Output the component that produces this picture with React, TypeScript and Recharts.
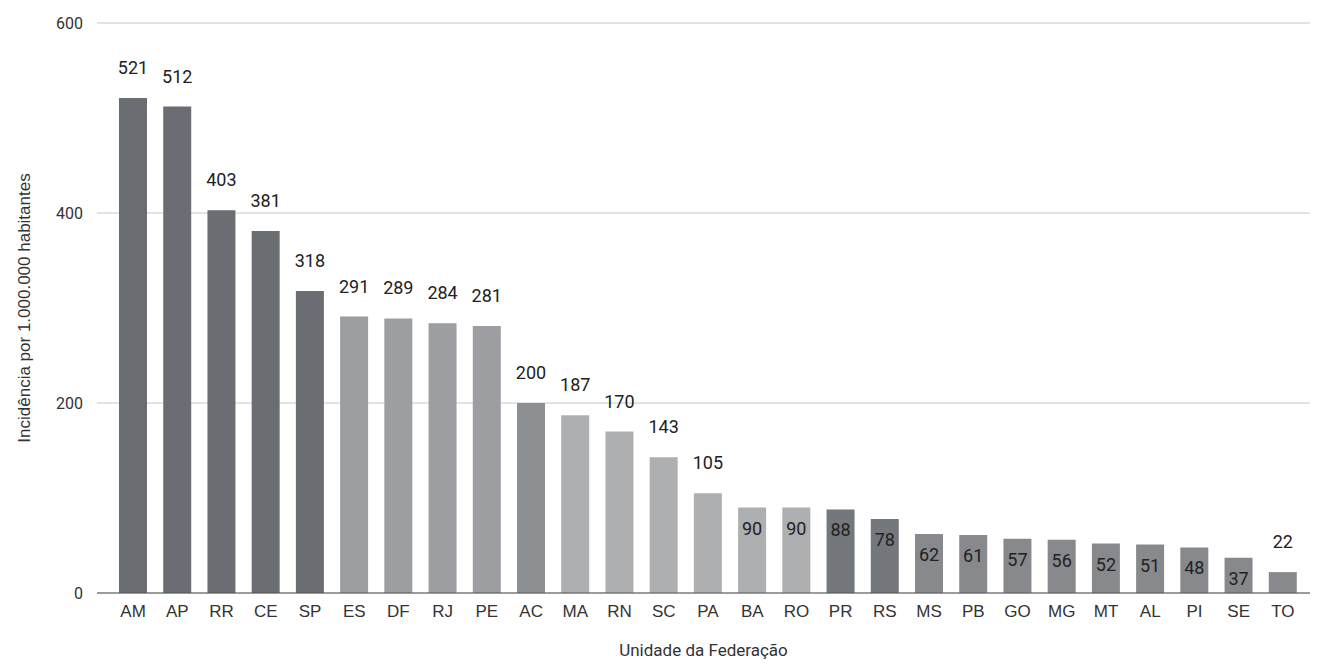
import { Bar, BarChart, CartesianGrid, Cell, LabelList, XAxis, YAxis } from "recharts";

const states = [
  "AM", "AP", "RR", "CE", "SP", "ES", "DF", "RJ", "PE", "AC", "MA", "RN", "SC", "PA",
  "BA", "RO", "PR", "RS", "MS", "PB", "GO", "MG", "MT", "AL", "PI", "SE", "TO"
];

const incidence = [
  521, 512, 403, 381, 318, 291, 289, 284, 281, 200, 187, 170, 143, 105,
  90, 90, 88, 78, 62, 61, 57, 56, 52, 51, 48, 37, 22
];

// grey shade group of each bar, as printed
const shadeGroup = [
  0, 0, 0, 0, 0, 2, 2, 2, 2, 1, 3, 3, 3, 3,
  3, 3, 4, 4, 5, 5, 5, 5, 5, 5, 5, 5, 5
];

const shades = ["#6a6d71", "#8d9093", "#9c9ea1", "#adafb1", "#74777b", "#87898c"];

const yTicks = [0, 200, 400, 600];

const data = states.map((uf, i) => ({ uf, value: incidence[i] }));

function ValueLabel(props: any) {
  const { x, y, width, value } = props;
  // short bars (but not the tiniest) carry their number inside the top of the bar
  const inside = value < 100 && value > 30;
  return (
    <text
      x={x + width / 2}
      y={inside ? y + 27 : y - 24}
      textAnchor="middle"
      fontFamily="Roboto"
      fontSize={18}
      fill="#222"
    >
      {value}
    </text>
  );
}

export default function App() {
  return (
    <div style={{ position: "absolute", left: 0, top: 0, width: 1321, height: 664, background: "#fff" }}>
      <BarChart
        width={1321}
        height={664}
        data={data}
        margin={{ top: 23, right: 11, left: 0, bottom: 0 }}
        barSize={28}
      >
        <CartesianGrid vertical={false} stroke="#c8c8c8" />
        <XAxis
          dataKey="uf"
          height={71}
          tickLine={false}
          axisLine={{ stroke: "#555" }}
          padding={{ left: 14, right: 5 }}
          interval={0}
          tick={{ fontFamily: "Liberation Sans", fontSize: 17, fill: "#333" }}
          tickMargin={6}
          label={{
            value: "Unidade da Federação",
            position: "insideBottom",
            offset: 8,
            fontFamily: "Roboto",
            fontSize: 17,
            fill: "#333"
          }}
        />
        <YAxis
          width={97}
          domain={[0, 600]}
          ticks={yTicks}
          tickLine={false}
          axisLine={false}
          tick={{ fontFamily: "Roboto", fontSize: 16, fill: "#333" }}
          tickMargin={8}
          label={{
            value: "Incidência por 1.000.000 habitantes",
            angle: -90,
            position: "insideLeft",
            offset: 24,
            style: { textAnchor: "middle" },
            fontFamily: "Liberation Sans",
            fontSize: 17,
            fill: "#333"
          }}
        />
        <Bar dataKey="value" isAnimationActive={false}>
          {data.map((d, i) => (
            <Cell key={d.uf} fill={shades[shadeGroup[i]]} />
          ))}
          <LabelList dataKey="value" content={ValueLabel} />
        </Bar>
      </BarChart>
    </div>
  );
}
